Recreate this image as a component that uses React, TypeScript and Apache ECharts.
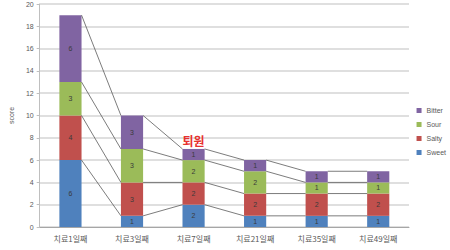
import React, { useEffect, useRef } from "react";
import * as echarts from "echarts";

const categories = ["치료1일째", "치료3일째", "치료7일째", "치료21일째", "치료35일째", "치료49일째"];
const sweet = [6, 1, 2, 1, 1, 1];
const salty = [4, 3, 2, 2, 2, 2];
const sour = [3, 3, 2, 2, 1, 1];
const bitter = [6, 3, 1, 1, 1, 1];
const yTicks = [0, 2, 4, 6, 8, 10, 12, 14, 16, 18, 20];
const dischargeLabel = "퇴원";
const dischargeIndex = 2;

const seriesDefs = [
  { name: "Sweet", data: sweet, color: "#4F81BD" },
  { name: "Salty", data: salty, color: "#C0504D" },
  { name: "Sour", data: sour, color: "#9BBB59" },
  { name: "Bitter", data: bitter, color: "#8064A2" },
];

const BAR_FRACTION = 0.36;

export default function App() {
  const ref = useRef<HTMLDivElement>(null);

  useEffect(() => {
    if (!ref.current) return;
    const chart = echarts.init(ref.current, null, { renderer: "svg" });

    // cumulative tops of every stack level, used for the series lines
    const tops: number[][] = [];
    let acc = categories.map(() => 0);
    seriesDefs.forEach((s) => {
      acc = acc.map((v, i) => v + s.data[i]);
      tops.push(acc.slice());
    });
    const lineData: number[][] = [];
    tops.forEach((level) => {
      for (let i = 0; i < categories.length - 1; i++) {
        lineData.push([i, level[i], level[i + 1]]);
      }
    });

    const total = tops[tops.length - 1];

    const barSeries: any[] = seriesDefs.map((s, idx) => ({
      name: s.name,
      type: "bar",
      stack: "taste",
      barWidth: BAR_FRACTION * 100 + "%",
      data: s.data,
      itemStyle: { color: s.color },
      label: {
        show: true,
        position: "inside",
        fontSize: 7,
        color: "#3a3a3a",
        fontFamily: "Liberation Sans",
      },
      z: 3,
      markPoint:
        idx === seriesDefs.length - 1
          ? {
              symbol: "rect",
              symbolSize: 0,
              data: [{ coord: [dischargeIndex, total[dischargeIndex]] }],
              label: {
                show: true,
                position: "top",
                distance: 2,
                formatter: dischargeLabel,
                color: "#E8312F",
                fontSize: 12,
                fontWeight: "bold",
                fontFamily: "Noto Sans CJK KR",
              },
            }
          : undefined,
    }));

    const option: any = {
      animation: false,
      backgroundColor: "#ffffff",
      grid: { left: 22, right: 41, top: 4, bottom: 23, containLabel: false },
      legend: {
        orient: "vertical",
        right: 4,
        top: 107,
        padding: 0,
        itemWidth: 5,
        itemHeight: 5,
        itemGap: 7,
        icon: "rect",
        data: ["Bitter", "Sour", "Salty", "Sweet"],
        textStyle: { fontSize: 7, color: "#595959", fontFamily: "Liberation Sans", overflow: "none" },
      },
      xAxis: {
        type: "category",
        data: categories,
        axisLine: { lineStyle: { color: "#a6a6a6" } },
        axisTick: { show: false },
        axisLabel: { fontSize: 8, color: "#595959", margin: 7, fontFamily: "Noto Sans CJK KR" },
      },
      yAxis: {
        type: "value",
        min: 0,
        max: yTicks[yTicks.length - 1],
        interval: yTicks[1] - yTicks[0],
        name: "score",
        nameLocation: "middle",
        nameGap: 15,
        nameRotate: 90,
        nameTextStyle: { fontSize: 7, color: "#595959", fontFamily: "Liberation Sans" },
        axisLine: { show: true, lineStyle: { color: "#bfbfbf" } },
        axisTick: { show: true, length: 3, lineStyle: { color: "#bfbfbf" } },
        axisLabel: { fontSize: 7, color: "#595959", margin: 6, fontFamily: "Liberation Sans" },
        splitLine: { lineStyle: { color: "#d4d4d4", width: 1.5 } },
      },
      series: [
        ...barSeries,
        {
          type: "custom",
          name: "seriesLines",
          silent: true,
          z: 4,
          data: lineData,
          encode: { x: 0, y: 1 },
          renderItem: (params: any, api: any) => {
            const i = api.value(0);
            const p1 = api.coord([i, api.value(1)]);
            const p2 = api.coord([i + 1, api.value(2)]);
            const half = (api.size([1, 0])[0] * BAR_FRACTION) / 2;
            return {
              type: "line",
              shape: { x1: p1[0] + half, y1: p1[1], x2: p2[0] - half, y2: p2[1] },
              style: { stroke: "#5a5a5a", lineWidth: 0.8 },
            };
          },
        },
      ],
    };

    chart.setOption(option);
    return () => chart.dispose();
  }, []);

  return <div ref={ref} style={{ width: 450, height: 250, position: "absolute", left: 0, top: 0 }} />;
}
